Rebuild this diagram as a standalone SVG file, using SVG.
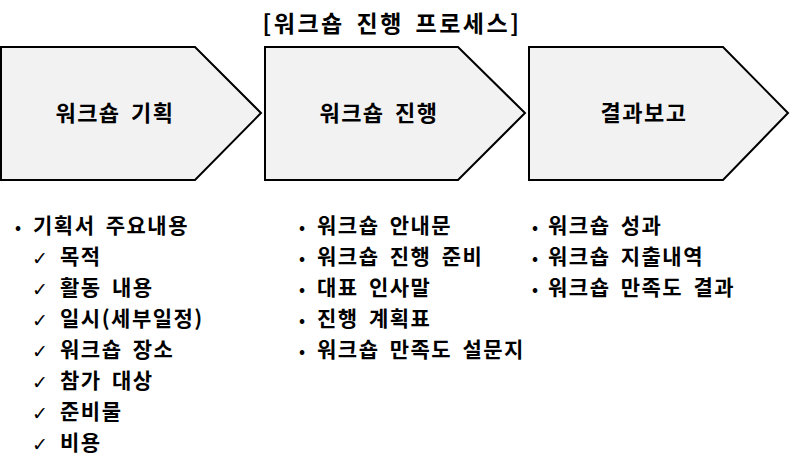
<svg xmlns="http://www.w3.org/2000/svg" width="790" height="473" viewBox="0 0 790 473">
<style>
text{font-family:"Noto Sans CJK KR","Liberation Sans",sans-serif;font-weight:bold;fill:#000;}
.t{font-size:23px;letter-spacing:2.5px;word-spacing:4px;}
.lbl{font-size:22px;text-anchor:middle;letter-spacing:1.5px;word-spacing:4px;}
.li{font-size:21px;letter-spacing:1.5px;word-spacing:4px;}
.b{font-size:16px;}
.chev{fill:#f2f2f2;stroke:#000;stroke-width:2;}
.ck{font-family:"DejaVu Sans",sans-serif;font-weight:normal;font-size:19px;}
</style>
<rect width="790" height="473" fill="#fff"/>
<text class="t" x="392" y="32" text-anchor="middle">[워크숍 진행 프로세스]</text>
<g id="step1">
<polygon class="chev" points="1,47 195,47 261,113 195,180 1,180"/>
<text class="lbl" x="115" y="121">워크숍 기획</text>
</g>
<g id="step2">
<polygon class="chev" points="265,47 458,47 525,113 458,180 265,180"/>
<text class="lbl" x="379" y="121">워크숍 진행</text>
</g>
<g id="step3">
<polygon class="chev" points="529,47 723,47 788,113 723,180 529,180"/>
<text class="lbl" x="644" y="121">결과보고</text>
</g>
<g id="connectors"></g>
<g id="list1">
<text class="b" x="15" y="233">•</text><text class="li" x="33" y="233">기획서 주요내용</text>
<text class="ck" x="32" y="265">✓</text><text class="li" x="60" y="264">목적</text>
<text class="ck" x="32" y="296">✓</text><text class="li" x="60" y="295">활동 내용</text>
<text class="ck" x="32" y="327">✓</text><text class="li" x="60" y="326">일시(세부일정)</text>
<text class="ck" x="32" y="358">✓</text><text class="li" x="60" y="357">워크숍 장소</text>
<text class="ck" x="32" y="389">✓</text><text class="li" x="60" y="388">참가 대상</text>
<text class="ck" x="32" y="420">✓</text><text class="li" x="60" y="419">준비물</text>
<text class="ck" x="32" y="451">✓</text><text class="li" x="60" y="450">비용</text>
</g>
<g id="list2">
<text class="b" x="299" y="233">•</text><text class="li" x="317" y="233">워크숍 안내문</text>
<text class="b" x="299" y="264">•</text><text class="li" x="317" y="264">워크숍 진행 준비</text>
<text class="b" x="299" y="295">•</text><text class="li" x="317" y="295">대표 인사말</text>
<text class="b" x="299" y="326">•</text><text class="li" x="317" y="326">진행 계획표</text>
<text class="b" x="299" y="357">•</text><text class="li" x="317" y="357">워크숍 만족도 설문지</text>
</g>
<g id="list3">
<text class="b" x="532" y="233">•</text><text class="li" x="548" y="233">워크숍 성과</text>
<text class="b" x="532" y="264">•</text><text class="li" x="548" y="264">워크숍 지출내역</text>
<text class="b" x="532" y="295">•</text><text class="li" x="548" y="295">워크숍 만족도 결과</text>
</g>
</svg>
